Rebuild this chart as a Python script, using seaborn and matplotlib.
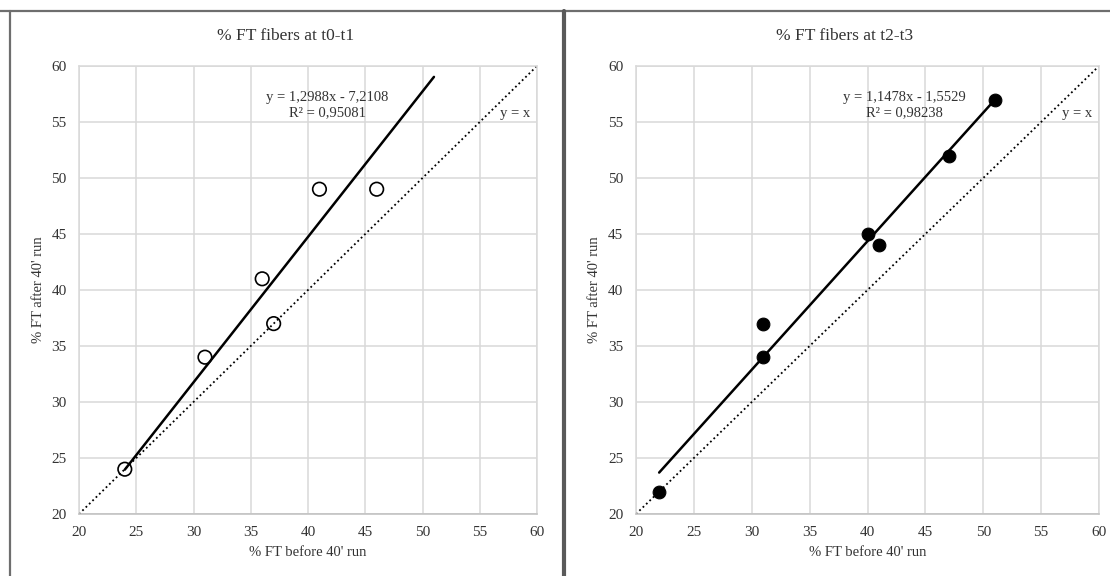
import numpy as np
import pandas as pd
import matplotlib
matplotlib.use("Agg")
import matplotlib.pyplot as plt
import seaborn as sns

# data
before_t01 = [24, 31, 36, 37, 41, 46]
after_t01 = [24, 34, 41, 37, 49, 49]
before_t23 = [22, 31, 31, 40, 41, 47, 51]
after_t23 = [22, 37, 34, 45, 44, 52, 57]

# trendline coefficients as printed, and the x range they are drawn over
fit_t01 = (1.2988, -7.2108)
fit_t23 = (1.1478, -1.5529)
r2_t01 = "0,95081"
r2_t23 = "0,98238"
trend_x_t01 = [24, 51]
trend_x_t23 = [22, 51]
identity_x = [20, 60]

ticks = [20, 25, 30, 35, 40, 45, 50, 55, 60]

sns.set_theme(style="white")
plt.rcParams['font.family'] = ['Liberation Serif', 'DejaVu Serif']

W, H = 1110, 576
TXT = "#333333"
fig = plt.figure(figsize=(W / 100, H / 100), dpi=100)

# panel frames (Excel chart borders)
fig.add_artist(plt.Line2D([0, 1], [1 - 10.5 / H] * 2, color="#6e6e6e", lw=1.6))
fig.add_artist(plt.Line2D([9.5 / W] * 2, [0, 1 - 10.5 / H], color="#6e6e6e", lw=1.6))
fig.add_artist(plt.Line2D([563.5 / W] * 2, [0, 1 - 10.5 / H], color="#5a5a5a", lw=3.0))

panels = [
    dict(left=79, right=537, x=before_t01, y=after_t01, fit=fit_t01, r2=r2_t01,
         tx=trend_x_t01, title="% FT fibers at t0-t1", title_x=286, filled=False,
         eq_x=41.7, ylab_x=39),
    dict(left=636, right=1099, x=before_t23, y=after_t23, fit=fit_t23, r2=r2_t23,
         tx=trend_x_t23, title="% FT fibers at t2-t3", title_x=845, filled=True,
         eq_x=43.2, ylab_x=594),
]

for p in panels:
    wpx = p["right"] - p["left"]
    ax = fig.add_axes([p["left"] / W, 1 - 514 / H, wpx / W, (514 - 66) / H])
    df = pd.DataFrame({"before": p["x"], "after": p["y"]})

    # y = x reference
    sns.lineplot(x=identity_x, y=identity_x, ax=ax, color="black", lw=1.3,
                 linestyle=(0, (1, 1.6)))
    # linear trendline
    a, b = p["fit"]
    tx = np.array(p["tx"], dtype=float)
    sns.lineplot(x=tx, y=a * tx + b, ax=ax, color="black", lw=1.8)

    if p["filled"]:
        sns.scatterplot(data=df, x="before", y="after", ax=ax, s=85,
                        color="black", edgecolor="black", zorder=5)
    else:
        sns.scatterplot(data=df, x="before", y="after", ax=ax, s=95,
                        facecolor="none", edgecolor="black", linewidth=1.2, zorder=5)

    ax.set_xlim(20, 60)
    ax.set_ylim(20, 60)
    ax.set_xticks(ticks)
    ax.set_yticks(ticks)
    ax.grid(True, color="#d9d9d9", lw=1.1)
    ax.set_axisbelow(True)
    for side in ["top", "right", "left", "bottom"]:
        ax.spines[side].set_color("#d9d9d9")
        ax.spines[side].set_linewidth(1.1)
    ax.spines["bottom"].set_color("#bfbfbf")
    ax.tick_params(axis="y", length=0, labelsize=11, colors=TXT, pad=9)
    ax.tick_params(axis="x", length=0, labelsize=11, colors=TXT, pad=9)

    ax.set_xlabel("% FT before 40' run", fontsize=10.5, color=TXT)
    ax.set_ylabel("% FT after 40' run", fontsize=10.5, color=TXT)
    ax.xaxis.set_label_coords(0.5, -(553 - 514) / 448)
    ax.yaxis.set_label_coords((p["ylab_x"] - p["left"]) / wpx, 0.5)
    ax.xaxis.label.set_va("center")
    ax.yaxis.label.set_va("center")

    sign = "-" if b < 0 else "+"
    ax.text(p["eq_x"], 57.2, f"y = {a:.4f}x {sign} {abs(b):.4f}".replace(".", ","),
            ha="center", va="center", fontsize=10.5, color=TXT)
    ax.text(p["eq_x"], 55.8, f"R² = {p['r2']}", ha="center", va="center",
            fontsize=10.5, color=TXT)
    ax.text(59.4, 55.8, "y = x", ha="right", va="center", fontsize=10.5, color=TXT)

    fig.text(p["title_x"] / W, 1 - 36 / H, p["title"], ha="center", va="center",
             fontsize=12.5, color=TXT)

fig.savefig("out.png", dpi=100)
